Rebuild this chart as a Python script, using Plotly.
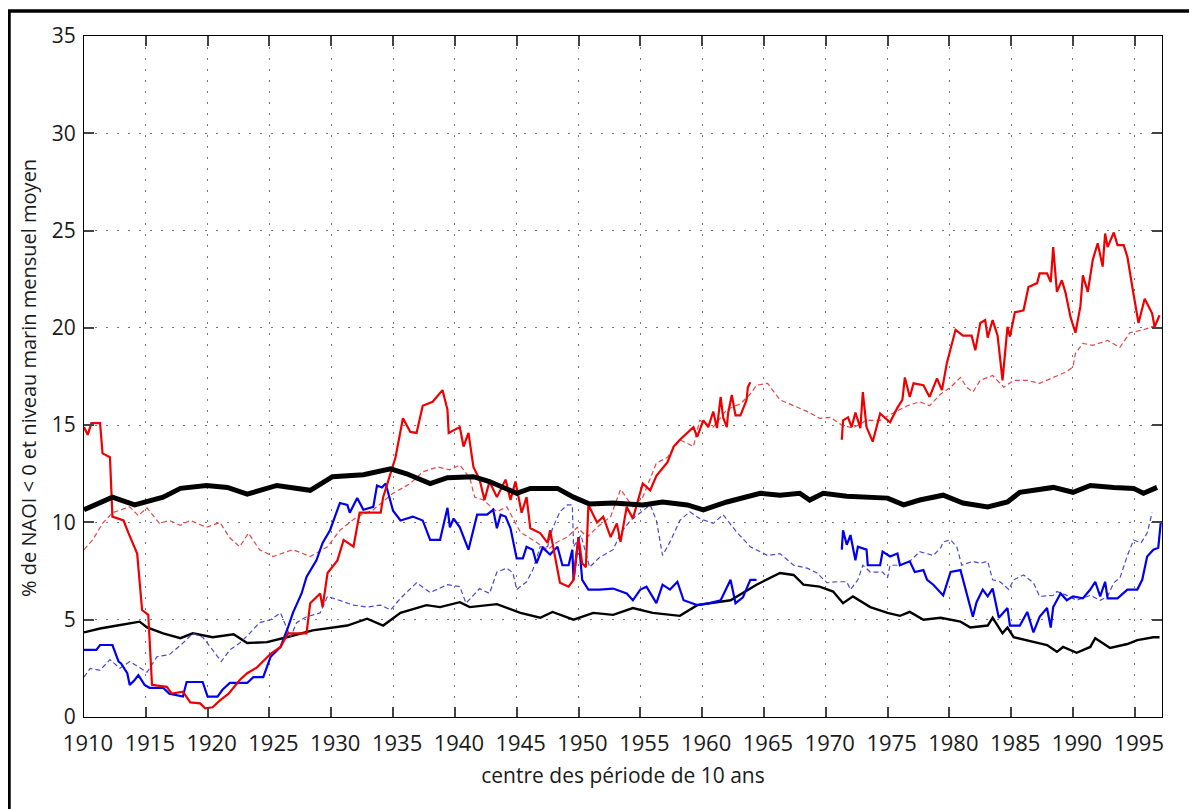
import plotly.graph_objects as go

# ---------------- data ----------------
red_solid_years = [
    1910.0, 1910.3, 1910.6, 1911.3, 1911.5, 1912.1, 1912.3, 1913.2, 1913.6, 1914.3,
    1914.7, 1915.2, 1915.5, 1916.7, 1917.1, 1918.0, 1918.6, 1919.4, 1919.8, 1920.4,
    1921.0, 1921.7, 1922.6, 1923.2, 1924.0, 1925.1, 1925.9, 1926.5, 1928.0, 1928.3,
    1929.1, 1929.3, 1929.7, 1930.5, 1931.0, 1931.8, 1932.3, 1934.0, 1934.2, 1935.2,
    1935.8, 1936.4, 1936.9, 1937.4, 1938.2, 1939.0, 1939.4, 1939.5, 1940.4, 1940.7,
    1941.1, 1941.5, 1942.0, 1942.4, 1942.8, 1943.4, 1944.1, 1944.5, 1944.9, 1945.4,
    1945.8, 1946.1, 1946.9, 1947.5, 1947.7, 1948.5, 1949.2, 1949.6, 1950.0, 1950.3,
    1950.6, 1950.8, 1951.5, 1952.0, 1952.6, 1953.1, 1953.4, 1953.9, 1954.4, 1955.2,
    1955.8, 1956.3, 1957.2, 1957.7, 1958.2, 1958.8, 1959.3, 1959.6, 1960.1, 1960.5,
    1960.9, 1961.2, 1961.5, 1961.7, 1962.0, 1962.1, 1962.4, 1962.7, 1963.1, 1963.6,
    1963.7, 1963.9,
    None,
    1971.3, 1971.4, 1971.8, 1972.1, 1972.4, 1972.8, 1973.0, 1973.3, 1973.8, 1974.4,
    1975.2, 1975.8, 1976.2, 1976.4, 1976.8, 1977.1, 1977.9, 1978.4, 1979.0, 1979.4,
    1979.8, 1980.5, 1981.1, 1981.8, 1982.1, 1982.5, 1982.9, 1983.1, 1983.5, 1983.9,
    1984.3, 1984.7, 1984.9, 1985.3, 1986.0, 1986.4, 1987.1, 1987.3, 1987.9, 1988.2,
    1988.4, 1988.7, 1989.1, 1989.4, 1989.8, 1990.2, 1990.6, 1990.8, 1991.2, 1991.6,
    1992.0, 1992.4, 1992.6, 1992.8, 1993.3, 1993.6, 1994.1, 1994.4, 1994.8, 1995.3,
    1995.8, 1996.4, 1996.6, 1997.0,
]
red_solid_vals = [
    14.9, 14.5, 15.1, 15.1, 13.55, 13.35, 10.3, 10.1, 9.45, 8.4,
    5.5, 5.25, 1.65, 1.55, 1.2, 1.3, 0.75, 0.7, 0.45, 0.5,
    0.85, 1.2, 1.9, 2.25, 2.55, 3.25, 3.6, 4.3, 4.3, 5.85,
    6.35, 5.65, 7.4, 8.05, 9.1, 8.75, 10.5, 10.5, 11.3, 13.35,
    15.35, 14.65, 14.6, 16.0, 16.2, 16.8, 15.8, 14.6, 14.9, 13.9,
    14.6, 12.85, 12.2, 11.15, 12.1, 11.3, 12.2, 11.15, 12.1, 10.5,
    11.3, 9.7, 9.45, 8.95, 9.6, 6.9, 6.7, 7.05, 9.2, 7.9,
    7.7, 10.9, 10.0, 10.3, 9.25, 9.95, 9.0, 10.8, 10.2, 12.0,
    11.65, 12.4, 13.1, 13.9, 14.25, 14.6, 14.9, 14.4, 15.25, 14.9,
    15.7, 14.85, 16.45, 15.4, 14.9, 15.6, 16.55, 15.5, 15.5, 16.3,
    16.95, 17.2,
    None,
    14.25, 15.25, 15.4, 14.9, 15.65, 14.85, 16.7, 14.9, 14.15, 15.6,
    15.15, 15.9, 16.3, 17.45, 16.45, 17.15, 17.05, 16.45, 17.4, 16.8,
    18.2, 19.9, 19.6, 19.6, 18.85, 20.25, 20.4, 19.5, 20.4, 19.6,
    17.3, 20.05, 19.55, 20.8, 20.9, 22.1, 22.3, 22.8, 22.8, 22.35,
    24.15, 21.85, 22.45, 21.8, 20.55, 19.75, 21.1, 22.7, 21.85, 23.5,
    24.35, 23.15, 24.85, 24.15, 24.9, 24.25, 24.25, 23.65, 22.1, 20.25,
    21.5, 20.75, 20.05, 20.65,
]

red_dash_years = [
    1910.0, 1910.7, 1911.5, 1912.3, 1913.7, 1914.4, 1915.1, 1916.1, 1916.9, 1917.8,
    1918.6, 1919.9, 1921.0, 1921.8, 1922.6, 1923.3, 1924.2, 1925.3, 1926.9, 1928.3,
    1929.7, 1930.7, 1932.1, 1933.4, 1935.0, 1936.4, 1937.4, 1938.6, 1939.6, 1940.4,
    1941.2, 1941.6, 1942.3, 1943.4, 1944.2, 1945.3, 1946.3, 1947.5, 1948.3, 1949.1,
    1949.9, 1950.7, 1951.5, 1952.6, 1953.4, 1954.4, 1955.2, 1956.3, 1957.2, 1958.2,
    1959.3, 1959.8, 1960.9, 1962.0, 1963.1, 1963.9, 1964.4, 1965.3, 1965.7, 1966.3,
    1967.4, 1968.7, 1969.5, 1970.4, 1971.3, 1972.2, 1973.3, 1974.4, 1975.4, 1976.6,
    1977.6, 1978.4, 1979.3, 1980.1, 1980.9, 1981.4, 1981.9, 1982.5, 1983.5, 1984.4,
    1985.2, 1986.3, 1987.3, 1988.4, 1989.5, 1990.0, 1990.2, 1990.8, 1991.6, 1992.8,
    1993.8, 1994.6, 1995.7, 1996.8,
]
red_dash_vals = [
    8.6, 9.1, 9.95, 10.5, 10.8, 10.35, 10.75, 9.95, 10.1, 9.85,
    10.1, 9.75, 10.0, 9.2, 8.75, 9.45, 8.6, 8.25, 8.6, 8.25,
    8.75, 9.6, 10.3, 10.65, 11.5, 12.0, 12.6, 12.85, 12.7, 12.95,
    12.3, 11.3, 11.15, 10.55, 10.8, 9.5, 9.1, 8.6, 9.0, 9.25,
    9.75, 9.25, 9.75, 10.3, 11.7, 10.8, 11.3, 13.05, 13.35, 14.25,
    13.9, 15.25, 14.9, 15.8, 16.1, 16.6, 17.05, 17.15, 16.8, 16.3,
    16.0, 15.65, 15.35, 15.4, 15.0, 14.85, 15.25, 15.25, 15.6, 16.0,
    16.2, 16.0, 16.6, 16.95, 17.45, 16.95, 16.7, 17.3, 17.55, 16.95,
    17.3, 17.3, 17.15, 17.45, 17.75, 18.0, 18.7, 19.2, 19.1, 19.35,
    19.0, 19.75, 19.9, 20.15,
]

blue_solid_years = [
    1910.0, 1911.0, 1911.3, 1912.3, 1912.8, 1913.0, 1913.5, 1913.7, 1914.1, 1914.4,
    1914.9, 1915.3, 1916.4, 1916.9, 1918.0, 1918.3, 1919.6, 1920.0, 1920.8, 1921.2,
    1921.8, 1923.2, 1923.7, 1924.5, 1925.1, 1925.9, 1926.5, 1926.9, 1927.6, 1928.0,
    1928.8, 1929.3, 1929.9, 1930.7, 1931.3, 1931.5, 1932.1, 1932.6, 1933.4, 1933.7,
    1934.1, 1934.4, 1935.0, 1935.6, 1936.6, 1937.4, 1938.0, 1938.8, 1939.4, 1939.6,
    1939.9, 1940.4, 1941.1, 1941.8, 1942.6, 1943.1, 1943.4, 1943.7, 1944.1, 1944.5,
    1945.0, 1945.5, 1945.8, 1946.3, 1946.6, 1947.1, 1947.7, 1948.3, 1948.7, 1949.2,
    1949.5, 1949.6, 1950.0, 1950.3, 1950.8, 1951.7, 1952.8, 1953.9, 1954.4, 1955.0,
    1955.5, 1956.3, 1956.8, 1957.4, 1958.0, 1958.5, 1959.6, 1960.6, 1961.5, 1962.3,
    1962.7, 1963.3, 1963.9, 1964.4,
    None,
    1971.3, 1971.4, 1971.7, 1972.0, 1972.4, 1972.6, 1973.3, 1973.4, 1974.4, 1974.6,
    1975.2, 1975.8, 1976.0, 1976.8, 1977.2, 1977.9, 1978.2, 1978.7, 1979.5, 1980.1,
    1980.9, 1981.1, 1981.5, 1981.9, 1982.2, 1982.7, 1983.1, 1983.5, 1984.0, 1984.7,
    1984.9, 1985.7, 1986.3, 1986.8, 1987.3, 1987.9, 1988.2, 1988.4, 1989.0, 1989.5,
    1990.0, 1990.8, 1991.4, 1991.8, 1992.2, 1992.6, 1992.8, 1993.6, 1994.4, 1995.2,
    1995.6, 1996.0, 1996.5, 1996.9, 1997.1,
]
blue_solid_vals = [
    3.45, 3.45, 3.7, 3.7, 2.85, 2.75, 2.25, 1.65, 1.9, 2.15,
    1.65, 1.5, 1.5, 1.2, 1.05, 1.8, 1.8, 1.05, 1.05, 1.4,
    1.75, 1.75, 2.05, 2.05, 3.1, 3.6, 4.6, 5.35, 6.35, 7.2,
    8.05, 8.95, 9.6, 11.0, 10.9, 10.5, 11.25, 10.65, 10.8, 11.9,
    11.8, 12.0, 10.6, 10.1, 10.3, 10.1, 9.1, 9.1, 10.75, 9.75,
    10.2, 9.75, 8.6, 10.4, 10.4, 10.65, 9.7, 10.4, 10.3, 9.7,
    8.15, 8.15, 8.75, 8.6, 7.9, 8.7, 8.35, 8.75, 7.8, 7.8,
    8.6, 7.05, 9.25, 7.05, 6.55, 6.55, 6.6, 6.35, 6.0, 6.55,
    6.7, 5.85, 6.8, 6.55, 6.95, 6.0, 5.75, 5.85, 6.0, 7.05,
    5.85, 6.15, 7.05, 7.05,
    None,
    8.6, 9.6, 8.85, 9.35, 8.05, 8.75, 8.6, 7.8, 7.8, 8.5,
    8.25, 8.4, 7.8, 8.0, 7.45, 7.55, 7.05, 6.8, 6.25, 7.45,
    7.55, 7.05, 6.0, 5.15, 5.9, 6.55, 6.2, 6.6, 5.1, 5.6,
    4.7, 4.7, 5.4, 4.35, 5.15, 5.6, 4.6, 5.65, 6.35, 6.0,
    6.2, 6.1, 6.55, 6.95, 6.2, 6.95, 6.1, 6.1, 6.55, 6.55,
    7.05, 8.25, 8.6, 8.7, 10.0,
]

blue_dash_years = [
    1910.0, 1910.5, 1911.3, 1912.1, 1912.9, 1913.7, 1915.1, 1915.9, 1916.9, 1918.0,
    1918.8, 1919.6, 1920.4, 1921.1, 1921.8, 1922.6, 1923.4, 1924.2, 1925.1, 1925.9,
    1926.7, 1927.2, 1928.0, 1929.1, 1929.7, 1930.7, 1931.8, 1932.9, 1934.0, 1934.8,
    1935.6, 1936.9, 1938.0, 1939.4, 1940.4, 1940.9, 1942.0, 1942.8, 1943.4, 1944.2,
    1944.7, 1945.0, 1945.8, 1946.3, 1946.9, 1947.5, 1947.9, 1948.5, 1949.1, 1949.5,
    1949.6, 1950.2, 1950.9, 1951.7, 1952.8, 1953.4, 1954.2, 1955.0, 1955.8, 1956.3,
    1956.8, 1957.4, 1958.2, 1959.0, 1959.8, 1960.9, 1961.7, 1962.8, 1963.9, 1965.3,
    1966.3, 1967.4, 1968.5, 1969.3, 1970.1, 1970.9, 1971.7, 1972.0, 1972.6, 1973.0,
    1973.6, 1974.6, 1975.0, 1975.2, 1976.0, 1976.8, 1977.6, 1978.7, 1979.3, 1979.5,
    1980.1, 1980.6, 1981.0, 1981.9, 1982.5, 1983.1, 1983.5, 1984.1, 1984.8, 1985.2,
    1986.0, 1986.8, 1987.3, 1988.4, 1988.7, 1989.5, 1990.3, 1991.4, 1992.2, 1992.8,
    1993.3, 1993.8, 1994.4, 1994.9, 1995.5, 1996.0, 1996.4,
]
blue_dash_vals = [
    2.05, 2.5, 2.4, 2.95, 2.5, 2.85, 2.3, 3.1, 3.2, 3.8,
    4.3, 4.1, 3.45, 2.85, 3.45, 3.8, 4.3, 4.85, 5.0, 5.35,
    4.1, 4.85, 5.15, 5.35, 6.2, 6.0, 5.75, 5.65, 5.75, 5.5,
    6.1, 6.9, 6.4, 6.8, 6.7, 5.85, 6.6, 6.35, 7.45, 7.65,
    7.4, 6.55, 6.95, 7.55, 8.75, 8.75, 9.7, 10.55, 10.9, 10.9,
    8.75, 9.35, 7.7, 8.2, 8.6, 9.45, 10.1, 10.5, 10.9, 10.1,
    8.3, 9.0, 10.1, 10.55, 10.2, 9.95, 10.4, 9.5, 8.75, 8.3,
    8.4, 7.8, 7.65, 7.4, 6.9, 6.95, 6.95, 6.55, 7.05, 7.8,
    7.45, 7.45, 7.15, 7.8, 7.8, 8.0, 8.5, 8.3, 8.7, 9.0,
    9.1, 8.75, 7.8, 8.0, 7.9, 8.0, 7.05, 6.95, 6.55, 7.05,
    7.3, 6.9, 6.2, 6.25, 6.45, 6.25, 6.0, 6.25, 6.0, 6.2,
    6.9, 7.15, 8.3, 9.1, 8.95, 9.45, 10.5,
]

black_thick_years = [
    1910.0, 1912.3, 1914.1, 1916.4, 1917.8, 1919.9, 1921.6, 1923.2, 1925.6, 1926.9,
    1928.3, 1930.1, 1932.6, 1934.8, 1936.1, 1938.0, 1939.4, 1941.5, 1942.8, 1945.0,
    1946.1, 1948.3, 1949.6, 1950.9, 1952.8, 1955.2, 1956.8, 1958.8, 1960.1, 1962.0,
    1964.7, 1966.3, 1967.9, 1968.7, 1969.8, 1971.7, 1975.0, 1976.3, 1977.6, 1979.5,
    1981.1, 1983.1, 1984.7, 1985.7, 1988.4, 1990.0, 1991.4, 1993.3, 1994.9, 1995.7,
    1996.8,
]
black_thick_vals = [
    10.65, 11.3, 10.9, 11.3, 11.75, 11.9, 11.8, 11.45, 11.9, 11.8,
    11.65, 12.35, 12.45, 12.75, 12.5, 12.0, 12.3, 12.35, 12.1, 11.5,
    11.75, 11.75, 11.3, 10.95, 11.0, 10.9, 11.05, 10.9, 10.65, 11.05,
    11.5, 11.4, 11.5, 11.15, 11.5, 11.35, 11.25, 10.9, 11.15, 11.4,
    11.0, 10.8, 11.05, 11.55, 11.8, 11.55, 11.9, 11.8, 11.75, 11.5,
    11.8,
]

black_thin_years = [
    1910.0, 1911.3, 1912.7, 1914.5, 1915.1, 1916.4, 1917.8, 1918.8, 1920.4, 1922.1,
    1923.2, 1924.8, 1926.4, 1928.5, 1931.3, 1932.9, 1934.2, 1935.6, 1937.7, 1938.8,
    1940.4, 1941.2, 1943.4, 1945.3, 1946.9, 1947.9, 1949.6, 1951.2, 1952.8, 1954.4,
    1956.0, 1958.2, 1959.6, 1962.3, 1964.4, 1966.3, 1967.4, 1968.2, 1969.5, 1970.6,
    1971.4, 1972.2, 1973.6, 1975.0, 1976.0, 1976.8, 1977.9, 1979.3, 1980.9, 1981.7,
    1983.1, 1983.5, 1984.3, 1984.7, 1985.2, 1986.8, 1987.9, 1988.7, 1989.2, 1990.3,
    1991.4, 1991.8, 1993.0, 1994.4, 1995.2, 1996.5, 1997.0,
]
black_thin_vals = [
    4.35, 4.55, 4.7, 4.9, 4.6, 4.3, 4.05, 4.3, 4.1, 4.25,
    3.8, 3.85, 4.1, 4.45, 4.7, 5.05, 4.7, 5.35, 5.75, 5.65,
    5.9, 5.65, 5.8, 5.35, 5.1, 5.4, 5.0, 5.35, 5.25, 5.6,
    5.35, 5.2, 5.75, 6.0, 6.8, 7.4, 7.3, 6.8, 6.7, 6.45,
    5.85, 6.2, 5.65, 5.35, 5.2, 5.4, 5.0, 5.1, 4.9, 4.6,
    4.7, 5.1, 4.3, 4.6, 4.1, 3.85, 3.7, 3.35, 3.6, 3.3,
    3.6, 4.05, 3.55, 3.75, 3.95, 4.1, 4.1,
]

x_tick_vals = [1910, 1915, 1920, 1925, 1930, 1935, 1940, 1945, 1950, 1955,
               1960, 1965, 1970, 1975, 1980, 1985, 1990, 1995]
y_tick_vals = [0, 5, 10, 15, 20, 25, 30, 35]
x_title = "centre des période de 10 ans"
y_title = "% de NAOI < 0 et niveau marin mensuel moyen"

# ---------------- figure ----------------
FONT = "Open Sans"
TXT = "#1a1a1a"
fig = go.Figure()

def add(xs, ys, color, width, dash="solid"):
    fig.add_trace(go.Scatter(x=xs, y=ys, mode="lines", connectgaps=False,
                             line=dict(color=color, width=width, dash=dash),
                             showlegend=False, hoverinfo="skip"))

add(black_thin_years, black_thin_vals, "#000000", 2.4)
add(blue_dash_years, blue_dash_vals, "#4a4ad0", 1.2, "5px,3px")
add(red_dash_years, red_dash_vals, "#e04848", 1.2, "5px,3px")
add(blue_solid_years, blue_solid_vals, "#0000ee", 2.2)
add(red_solid_years, red_solid_vals, "#ee0000", 2.2)
add(black_thick_years, black_thick_vals, "#000000", 5)

axis_common = dict(
    showline=True, linecolor="#000000", linewidth=1, mirror="allticks",
    ticks="inside", ticklen=10, tickwidth=1.5, tickcolor="#444444",
    showgrid=True, gridcolor="#777777", gridwidth=1, griddash="2px,9px",
    zeroline=False,
)

fig.update_xaxes(range=[1910, 1997.2], tickvals=x_tick_vals,
                 ticktext=[str(v) for v in x_tick_vals],
                 tickfont=dict(family=FONT, size=22, color=TXT),
                 title=dict(text=x_title, font=dict(family=FONT, size=21, color=TXT),
                            standoff=11),
                 ticklabelstandoff=7, ticklabelshift=4, **axis_common)
fig.update_yaxes(range=[0, 35], tickvals=y_tick_vals,
                 ticktext=[str(v) for v in y_tick_vals],
                 tickfont=dict(family=FONT, size=21, color=TXT),
                 ticklabelstandoff=3, **axis_common)

# page has an 8px body margin: the figure is drawn 8px right/down, so size/margins compensate
fig.update_layout(
    width=1189, height=801,
    margin=dict(l=76, r=35, t=28, b=92, autoexpand=False),
    plot_bgcolor="#ffffff", paper_bgcolor="#ffffff",
    shapes=[dict(type="rect", xref="paper", yref="paper",
                 x0=-0.0696, x1=1.06, y0=-0.17, y1=1.0367,
                 line=dict(color="#000000", width=3.5), layer="below")],
    annotations=[dict(text=y_title, textangle=-90, xref="paper", yref="paper",
                      x=-0.051, y=0.498, xanchor="center", yanchor="middle",
                      showarrow=False, font=dict(family=FONT, size=20, color=TXT))],
)

fig.write_html("out.html")
